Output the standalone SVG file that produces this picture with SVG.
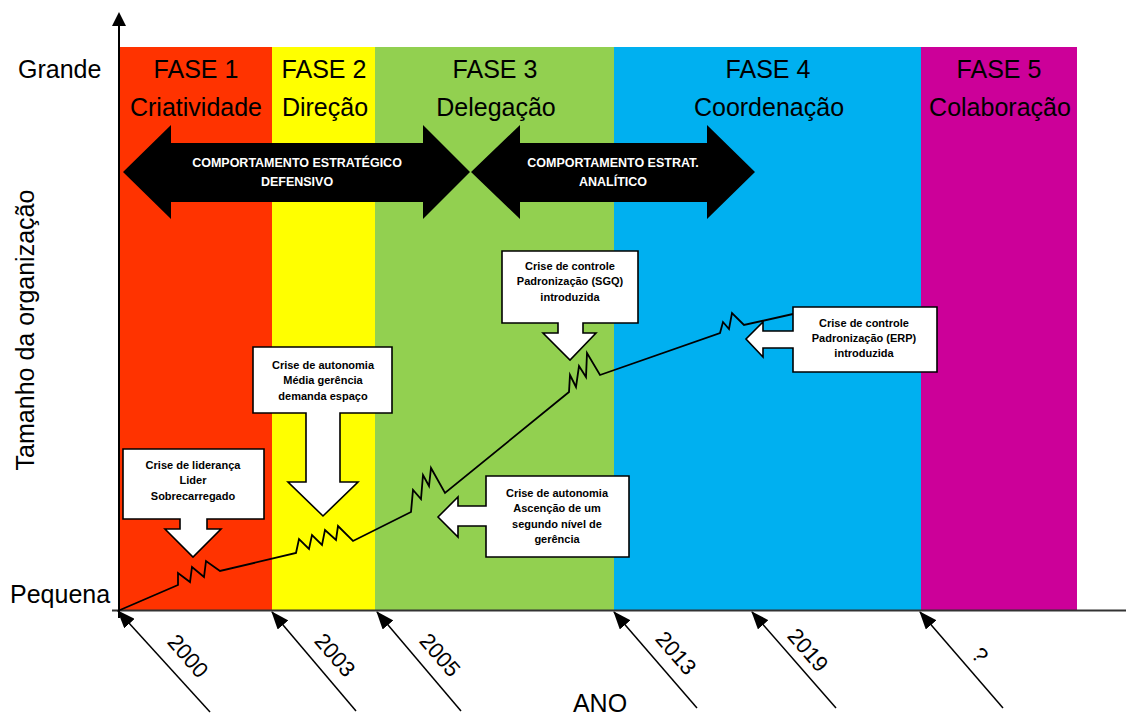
<svg xmlns="http://www.w3.org/2000/svg" width="1126" height="715" viewBox="0 0 1126 715">
<defs>
<style>
.lbl{font-family:"Liberation Sans",Arial,sans-serif;font-size:25px;fill:#000;text-anchor:middle}
.ax{font-family:"Liberation Sans",Arial,sans-serif;font-size:25px;fill:#000}
.yr{font-family:"Liberation Sans",Arial,sans-serif;font-size:22px;fill:#000;text-anchor:middle}
.bw{font-family:"Liberation Sans",Arial,sans-serif;font-size:12.5px;font-weight:bold;fill:#fff;text-anchor:middle}
.ct{font-family:"Liberation Sans",Arial,sans-serif;font-size:11px;font-weight:bold;fill:#000;text-anchor:middle}
.call{fill:#fff;stroke:#000;stroke-width:1.6;stroke-linejoin:miter}
.conn{fill:none;stroke:#000;stroke-width:1.8}
</style>
<marker id="ah" markerWidth="10" markerHeight="10" refX="9" refY="5" orient="auto" markerUnits="userSpaceOnUse" viewBox="0 0 10 10">
<path d="M0,0 L10,5 L0,10 Z" fill="#000"/>
</marker>
<marker id="ahy" markerWidth="18" markerHeight="14" refX="17" refY="7" orient="auto" markerUnits="userSpaceOnUse" viewBox="0 0 18 14">
<path d="M0,0 L18,7 L0,14 Z" fill="#000"/>
</marker>
</defs>
<rect width="1126" height="715" fill="#fff"/>
<g id="bands">
<rect x="120" y="47" width="152" height="563" fill="#FF3300"/>
<rect x="272" y="47" width="103" height="563" fill="#FFFF00"/>
<rect x="375" y="47" width="239" height="563" fill="#92D050"/>
<rect x="614" y="47" width="307" height="563" fill="#00B0F0"/>
<rect x="921" y="47" width="156" height="563" fill="#CC0099"/>
</g>
<g id="phase-labels">
<text class="lbl" x="196" y="78">FASE 1</text>
<text class="lbl" x="196" y="116">Criatividade</text>
<text class="lbl" x="324" y="78">FASE 2</text>
<text class="lbl" x="325" y="116">Direção</text>
<text class="lbl" x="495" y="78">FASE 3</text>
<text class="lbl" x="496" y="116">Delegação</text>
<text class="lbl" x="768" y="78">FASE 4</text>
<text class="lbl" x="769" y="116">Coordenação</text>
<text class="lbl" x="999" y="78">FASE 5</text>
<text class="lbl" x="1000" y="116">Colaboração</text>
</g>
<g id="axes">
<line x1="112" y1="610.5" x2="1126" y2="610.5" stroke="#333" stroke-width="2"/>
<line x1="119" y1="618" x2="119" y2="24" stroke="#000" stroke-width="2"/>
<path d="M112,26 L126,26 L119,12 Z" fill="#000"/>
<text class="ax" x="18" y="78">Grande</text>
<text class="ax" x="10" y="603">Pequena</text>
<text class="ax" text-anchor="middle" transform="translate(34,330) rotate(-90)">Tamanho da organização</text>
<text class="ax" x="600" y="712" text-anchor="middle">ANO</text>
</g>
<g id="strategy-arrows">
<g id="arrow-defensivo">
<path d="M123,172 L171,125 V143 H423 V125 L470,172 L423,219 V202 H171 V219 Z" fill="#000"/>
<text class="bw" x="297" y="167">COMPORTAMENTO ESTRATÉGICO</text>
<text class="bw" x="297" y="186">DEFENSIVO</text>
</g>
<g id="arrow-analitico">
<path d="M471,172 L520,125 V143 H707 V125 L755,172 L707,219 V202 H520 V219 Z" fill="#000"/>
<text class="bw" x="613" y="167">COMPORTAMENTO ESTRAT.</text>
<text class="bw" x="613" y="186">ANALÍTICO</text>
</g>
</g>
<g id="connectors">
<polyline class="conn" points="120,610 178,585 178,573 190,582 192,567 204,577 206,561 220,571 296,553 299,539 309,549 312,535 322,545 325,530 336,540 338,526 353,541 411,512 413,490 421,499 423,475 429,486 431,468 445,493 569,392 570,375 576,387 579,366 586,377 587,353 600,375 720,333 723,322 729,329 732,313 744,325 793,314"/>
<line x1="210" y1="712" x2="118" y2="611" stroke="#000" stroke-width="1.5" marker-end="url(#ahy)"/>
<line x1="356" y1="711" x2="272" y2="612" stroke="#000" stroke-width="1.5" marker-end="url(#ahy)"/>
<line x1="461" y1="711" x2="377" y2="612" stroke="#000" stroke-width="1.5" marker-end="url(#ahy)"/>
<line x1="697" y1="708" x2="614" y2="612" stroke="#000" stroke-width="1.5" marker-end="url(#ahy)"/>
<line x1="836" y1="708" x2="752" y2="612" stroke="#000" stroke-width="1.5" marker-end="url(#ahy)"/>
<line x1="1003" y1="708" x2="920" y2="612" stroke="#000" stroke-width="1.5" marker-end="url(#ahy)"/>
</g>
<g id="year-labels">
<text class="yr" transform="translate(188,656) rotate(49)" dy="0.35em">2000</text>
<text class="yr" transform="translate(335,655) rotate(49)" dy="0.35em">2003</text>
<text class="yr" transform="translate(440,655) rotate(49)" dy="0.35em">2005</text>
<text class="yr" transform="translate(676,653) rotate(49)" dy="0.35em">2013</text>
<text class="yr" transform="translate(808,650) rotate(49)" dy="0.35em">2019</text>
<text class="yr" transform="translate(980,655) rotate(49)" dy="0.35em">?</text>
</g>
<g id="crise-lideranca">
<path class="call" d="M123,449 H264 V519 H207 V529 H221 L193,557 L165,529 H180 V519 H123 Z"/>
<text class="ct" x="193" y="469">Crise de liderança</text>
<text class="ct" x="193" y="484">Lider</text>
<text class="ct" x="193" y="500">Sobrecarregado</text>
</g>
<g id="crise-autonomia-1">
<path class="call" d="M253,347 H392 V413 H340 V482 H358 L323,516 L288,482 H306 V413 H253 Z"/>
<text class="ct" x="323" y="369">Crise de autonomia</text>
<text class="ct" x="323" y="384">Média gerência</text>
<text class="ct" x="323" y="400">demanda espaço</text>
</g>
<g id="crise-autonomia-2">
<path class="call" d="M486,476 H629 V557 H486 V526 H458 V537 L438,517 L458,497 V506 H486 Z"/>
<text class="ct" x="557" y="497">Crise de autonomia</text>
<text class="ct" x="557" y="512">Ascenção de um</text>
<text class="ct" x="557" y="528">segundo nível de</text>
<text class="ct" x="557" y="543">gerência</text>
</g>
<g id="crise-controle-sgq">
<path class="call" d="M502,251 H638 V323 H583 V333 H596 L570,360 L543,333 H558 V323 H502 Z"/>
<text class="ct" x="570" y="270">Crise de controle</text>
<text class="ct" x="570" y="285">Padronização (SGQ)</text>
<text class="ct" x="570" y="301">introduzida</text>
</g>
<g id="crise-controle-erp">
<path class="call" d="M793,307 H937 V372 H793 V348 H763 V357 L746,339 L763,322 V331 H793 Z"/>
<text class="ct" x="864" y="327">Crise de controle</text>
<text class="ct" x="864" y="342">Padronização (ERP)</text>
<text class="ct" x="864" y="357">introduzida</text>
</g>
</svg>
